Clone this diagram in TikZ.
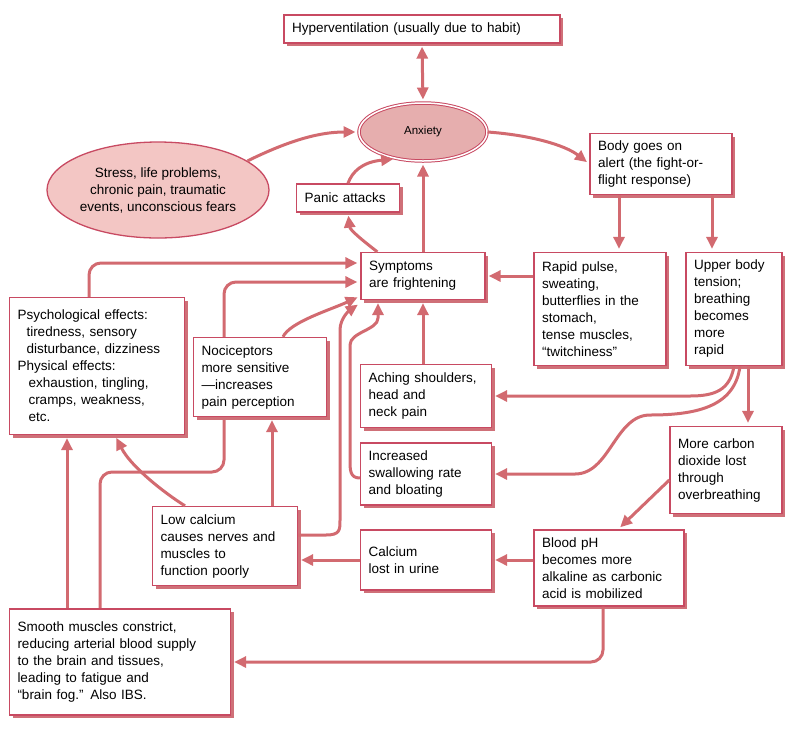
\documentclass[tikz,border=0pt]{standalone}
\usepackage{fontspec}
\setmainfont{Liberation Sans}
\usetikzlibrary{arrows.meta,shadows,shapes.geometric,backgrounds}
\definecolor{ln}{HTML}{D26A70}
\definecolor{bd}{HTML}{C84A62}
\definecolor{sh}{HTML}{CF7078}
\definecolor{anxf}{HTML}{E6AEAE}
\definecolor{strf}{HTML}{F3C6C4}
\tikzset{
  box/.style={draw=bd,line width=1.3pt,fill=white,align=left,inner xsep=8pt,
    font=\fontsize{13.5}{17}\selectfont,
    drop shadow={shadow xshift=3pt,shadow yshift=-3pt,fill=sh,opacity=1}},
  arr/.style={draw=ln,line width=3pt,-{Triangle[length=12pt,width=11pt]},shorten >=3pt},
}
\newcommand{\bx}[6]{\node[box,minimum width=#3pt,minimum height=#4pt,text width=#3pt-12pt] (#5) at (#1,#2) {#6};}
\begin{document}
\begin{tikzpicture}[x=1pt,y=-1pt]
\useasboundingbox (0,0) rectangle (800,732);
\bx{422}{29}{272}{28}{hyp}{Hyperventilation (usually due to habit)}
\bx{661}{164}{138}{61}{body}{Body goes on\\alert (the fight-or-\\flight response)}
\bx{348}{198}{99}{28}{panic}{Panic attacks}
\bx{423}{276}{120}{47}{sym}{Symptoms\\are frightening}
\bx{600}{309}{128}{113}{rapid}{Rapid pulse,\\sweating,\\butterflies in the\\stomach,\\tense muscles,\\``twitchiness''}
\bx{734}{309}{92}{113}{upper}{Upper body\\tension;\\breathing\\becomes\\more\\rapid}
\bx{97}{366}{171}{137}{psych}{Psychological effects:\\\hspace*{9pt}tiredness, sensory\\\hspace*{9pt}disturbance, dizziness\\Physical effects:\\\hspace*{11pt}exhaustion, tingling,\\\hspace*{11pt}cramps, weakness,\\\hspace*{11pt}etc.}
\bx{426}{396}{127}{63}{ach}{Aching shoulders,\\head and\\neck pain}
\bx{426}{474}{127}{62}{inc}{Increased\\swallowing rate\\and bloating}
\bx{726}{470}{108}{87}{carb}{More carbon\\dioxide lost\\through\\overbreathing}
\bx{225}{546}{141}{79}{low}{Low calcium\\causes nerves and\\muscles to\\function poorly}
\bx{426}{560}{127}{60}{cal}{Calcium\\lost in urine}
\bx{609}{568}{146}{76}{ph}{Blood pH\\becomes more\\alkaline as carbonic\\acid is mobilized}
\bx{120}{662}{217}{106}{smooth}{Smooth muscles constrict,\\reducing arterial blood supply\\to the brain and tissues,\\leading to fatigue and\\``brain fog.'' Also IBS.}
\node[ellipse,draw=bd,line width=1pt,double=white,double distance=1.5pt,fill=anxf,minimum width=128pt,minimum height=58pt,font=\fontsize{11.5}{13}\selectfont] (anx) at (423,132) {Anxiety};
\node[ellipse,draw=bd,line width=1.3pt,fill=strf,minimum width=222pt,minimum height=96pt,align=center,inner sep=0pt,font=\fontsize{13.5}{17}\selectfont] (stress) at (158,190) {Stress, life problems,\\chronic pain, traumatic\\events, unconscious fears};
\node[box,minimum width=129pt,minimum height=79pt,text width=117pt] (noci) at (260,377) {Nociceptors\\more sensitive\\---increases\\pain perception};
\begin{scope}[on background layer]
\draw[arr,rounded corners=12pt] ([xshift=-20pt]smooth.north) |- (224,472) |- ([yshift=-6pt]sym.west);
\end{scope}
\draw[arr,{Triangle[length=12pt,width=11pt]}-{Triangle[length=12pt,width=11pt]},shorten <=3pt] (hyp.south) -- (anx.north);
\draw[arr] (stress.18) .. controls (290,140) and (320,132) .. (anx.west);
\draw[arr] (anx.east) .. controls (530,135) and (565,145) .. (body.west);
\draw[arr] (panic.north) .. controls (352,172) and (362,162) .. (anx.225);
\draw[arr] ([xshift=17pt]sym.north west) .. controls (362,240) and (350,230) .. (panic.south);
\draw[arr] (sym.north) -- (anx.south);
\draw[arr] ([xshift=-42pt]body.south) -- ([xshift=-42pt]body.south |- rapid.north);
\draw[arr] ([xshift=51pt]body.south) -- ([xshift=51pt]body.south |- upper.north);
\draw[arr] (rapid.west |- sym.east) -- (sym.east);
\draw[arr,rounded corners=12pt] ([xshift=-8pt]psych.north) |- ([yshift=13pt]sym.west);
\draw[arr] ([xshift=23pt]noci.north) .. controls (290,322) and (330,310) .. ([yshift=-20pt]sym.west);
\draw[arr] ([yshift=11pt]low.east) -- (326,535) .. controls (340,535) and (340,530) .. (340,520) -- (340,330) .. controls (340,318) and (350,310) .. ([yshift=-27pt]sym.west);
\draw[arr] ([yshift=-4pt]inc.west) .. controls (350,478) and (350,470) .. (350,460) -- (350,345) .. controls (350,332) and (378,330) .. (378,318) -- ([xshift=-45pt]sym.south);
\draw[arr] (sym.south |- ach.north) -- (sym.south);
\draw[arr] (upper.south) .. controls (730,390) and (715,396) .. (690,396) -- (ach.east);
\draw[arr] ([xshift=6pt]upper.south) .. controls (735,405) and (700,415) .. (650,415) .. controls (615,415) and (610,474) .. (575,474) -- (inc.east);
\draw[arr] ([xshift=14pt]upper.south) -- ([xshift=14pt]upper.south |- carb.north);
\draw[arr] ([yshift=-10pt]carb.west) -- ([xshift=9pt]ph.north);
\draw[arr] (ph.west |- cal.east) -- (cal.east);
\draw[arr] (cal.west) -- (low.east |- cal.west);
\draw[arr] ([xshift=47pt]low.north) -- ([xshift=47pt]low.north |- noci.south);
\draw[arr] ([xshift=-40pt]low.north) .. controls (160,490) and (130,465) .. ([xshift=18pt]psych.south);
\draw[arr] ([xshift=-53pt]smooth.north) -- ([xshift=-53pt]smooth.north |- psych.south);
\draw[arr,rounded corners=12pt] ([xshift=-6pt]ph.south) |- (smooth.east);
\end{tikzpicture}
\end{document}
